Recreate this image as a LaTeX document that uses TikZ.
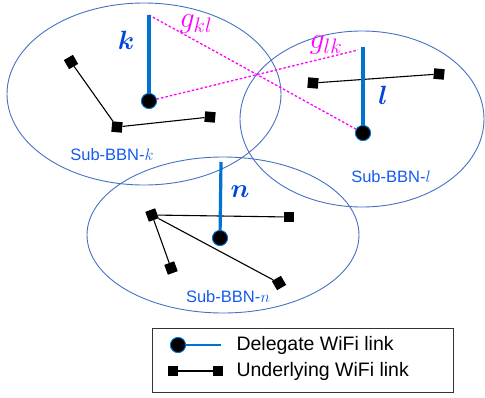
\RequirePackage{fix-cm}
\documentclass[tikz,border=0pt]{standalone}
\usepackage{amsmath,bm,graphicx}
\usepackage{fontspec}
\setmainfont{Liberation Sans}
\begin{document}
\begin{tikzpicture}[x=1pt,y=-1pt,
  region/.style={draw=ellblue,line width=0.9pt},
  dlink/.style={draw=linkblue,line width=3.2pt},
  ulink/.style={draw=black,line width=1.1pt},
  glink/.style={draw=magenta,line width=1.3pt,dash pattern=on 2.5pt off 2pt},
  delegate/.style={circle,fill=black,draw=linkblue,line width=0.8pt,minimum size=15pt,inner sep=0pt},
  member/.style={rectangle,fill=black,minimum size=10.5pt,inner sep=0pt,rotate=#1},
  member/.default=0,
  sublabel/.style={text=subblue,font=\fontsize{16.5}{19}\selectfont},
  letter/.style={text=letterblue,font=\fontsize{24}{26}\selectfont},
  glabel/.style={text=magenta,font=\fontsize{25}{28}\selectfont},
  legtext/.style={anchor=west,font=\fontsize{19.5}{22}\selectfont}]
\definecolor{ellblue}{RGB}{68,114,196}
\definecolor{linkblue}{RGB}{0,115,210}
\definecolor{subblue}{RGB}{20,90,240}
\definecolor{letterblue}{RGB}{0,70,220}
\definecolor{magenta}{RGB}{255,0,255}
\useasboundingbox (0,0) rectangle (485,397);
% regions
\draw[region] (144,94) ellipse [x radius=137,y radius=91];
\draw[region] (362,119) ellipse [x radius=122,y radius=88];
\draw[region] (223,235) ellipse [x radius=136,y radius=78];
% sub-BBN k
\coordinate (ktop) at (149,15);
\node[delegate] (kc) at (149,101) {};
\node[member=30] (k1) at (71,62) {};
\node[member=-5] (k2) at (117,127) {};
\node[member=-5] (k3) at (210,117) {};
\draw[ulink] (k1) -- (k2) -- (k3);
% sub-BBN l
\coordinate (ltop) at (363,47);
\coordinate (lkend) at (358,50);
\node[delegate] (lc) at (363,133) {};
\node[member=-5] (l1) at (313,83) {};
\node[member=-5] (l2) at (439,74) {};
\draw[ulink] (l1) -- (l2);
% sub-BBN n
\coordinate (ntop) at (221,162);
\node[delegate] (nc) at (220,238) {};
\node[member=20] (n1) at (152,215) {};
\node[member] (n2) at (289,217) {};
\node[member=20] (n3) at (171,268) {};
\node[member=30] (n4) at (279,283) {};
\draw[ulink] (n1) -- (n2);
\draw[ulink] (n1) -- (n3);
\draw[ulink] (n1) -- (n4);
% cross links
\draw[glink] (ktop) -- (lc);
\draw[glink] (kc) -- (lkend);
% delegate links
\draw[dlink] (ktop) -- (kc);
\draw[dlink] (ltop) -- (lc);
\draw[dlink] (ntop) -- (nc);
\node[delegate] at (kc) {};
\node[delegate] at (lc) {};
\node[delegate] at (nc) {};
% labels
\node[letter] (klab) at (126,40) {\scalebox{1.1}{$\bm{k}$}};
\node[letter] (llab) at (383,95) {\scalebox{1.1}{$\bm{l}$}};
\node[letter] (nlab) at (240,192) {\scalebox{1.1}{$\bm{n}$}};
\node[glabel] (gkl) at (196,24) {\scalebox{1.2}{$g_{kl}$}};
\node[glabel] (glk) at (326,45) {\scalebox{1.2}{$g_{lk}$}};
\node[sublabel] (subk) at (112,155) {Sub-BBN-$k$};
\node[sublabel] (subl) at (391,177) {Sub-BBN-$l$};
\node[sublabel] (subn) at (228,297) {Sub-BBN-$n$};
% legend
\node[draw=black!80,line width=0.8pt,minimum width=301pt,minimum height=64pt,inner sep=0pt] (legend) at (302.5,360) {};
\coordinate (d2) at (221,345);
\node[delegate] (d1) at (178,345) {};
\draw[dlink,line width=2.4pt] (d1) -- (d2);
\node[delegate] at (d1) {};
\node[legtext] (dtext) at (233,345) {Delegate WiFi link};
\node[member] (u1) at (173,371) {};
\node[member] (u2) at (218,371) {};
\draw[ulink] (u1) -- (u2);
\node[legtext] (utext) at (233,371) {Underlying WiFi link};
\end{tikzpicture}
\end{document}
